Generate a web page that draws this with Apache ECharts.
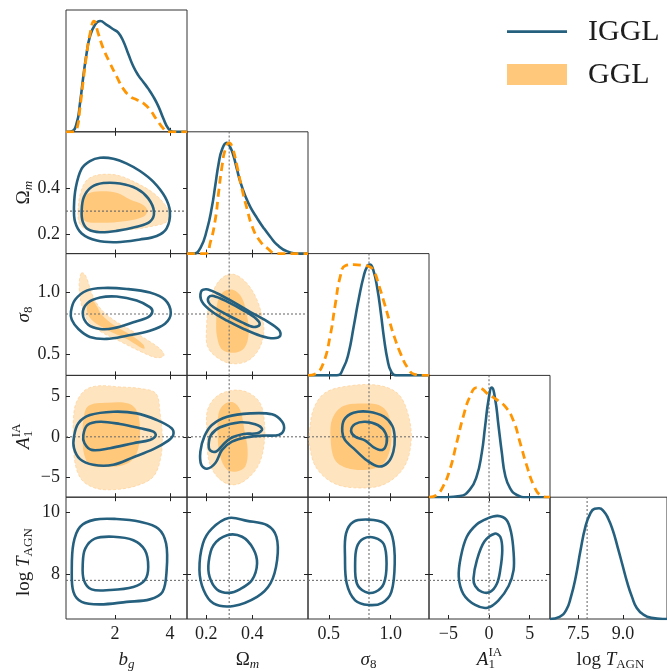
<!DOCTYPE html>
<html>
<head>
<meta charset="utf-8">
<script src="https://cdn.jsdelivr.net/npm/echarts@6/dist/echarts.min.js"></script>
<style>
  html, body { margin: 0; padding: 0; background: #ffffff; }
  #chart { width: 667px; height: 671px; }
</style>
</head>
<body>
<div id="chart"></div>
<script>
// ---------- parameters, axis ranges and ticks ----------
const params = ['bg', 'om', 's8', 'a1', 'lt'];
const ranges = { bg: [0.22, 4.62], om: [0.117, 0.642], s8: [0.332, 1.31], a1: [-7.38, 7.5], lt: [6.56, 10.47] };
const xTicks = { bg: [2, 4], om: [0.2, 0.4], s8: [0.5, 1.0], a1: [-5, 0, 5], lt: [7.5, 9.0] };
const yTicks = { om: [0.2, 0.4], s8: [0.5, 1.0], a1: [-5, 0, 5], lt: [8, 10] };
const xTickDecimals = { bg: 0, om: 1, s8: 1, a1: 0, lt: 1 };
const yTickDecimals = { om: 1, s8: 1, a1: 0, lt: 0 };
const fiducial = { om: 0.3, s8: 0.825, a1: 0, lt: 7.8 };
const legendNames = ['IGGL', 'GGL'];

// ---------- 1D marginal posteriors (peak-normalised) ----------
const bgMarg_IGGL = [[0.22,0],[0.43,0.005],[0.61,0.08],[0.73,0.26],[0.85,0.50],[0.97,0.71],[1.09,0.86],[1.27,0.965],[1.46,1.0],[1.70,0.965],[1.94,0.926],[2.12,0.895],[2.30,0.82],[2.49,0.70],[2.67,0.59],[2.85,0.51],[3.03,0.45],[3.21,0.39],[3.39,0.32],[3.58,0.23],[3.76,0.12],[3.94,0.03],[4.12,0],[4.62,0]];
const bgMarg_GGL = [[0.22,0],[0.50,0],[0.62,0.03],[0.73,0.22],[0.85,0.47],[0.97,0.70],[1.09,0.88],[1.24,1.0],[1.39,0.89],[1.58,0.75],[1.82,0.62],[2.06,0.50],[2.30,0.39],[2.55,0.32],[2.79,0.29],[3.03,0.26],[3.27,0.20],[3.52,0.11],[3.76,0.03],[3.94,0],[4.62,0]];
const omMarg_IGGL = [[0.117,0],[0.145,0],[0.175,0.05],[0.204,0.22],[0.225,0.42],[0.240,0.62],[0.254,0.81],[0.269,0.94],[0.289,1.0],[0.305,0.96],[0.319,0.88],[0.334,0.76],[0.348,0.65],[0.370,0.52],[0.392,0.42],[0.421,0.32],[0.450,0.23],[0.479,0.15],[0.508,0.08],[0.552,0.02],[0.609,0],[0.642,0]];
const omMarg_GGL = [[0.117,0],[0.196,0],[0.218,0.10],[0.240,0.31],[0.254,0.55],[0.269,0.79],[0.283,0.94],[0.300,1.0],[0.315,0.95],[0.334,0.79],[0.356,0.58],[0.378,0.40],[0.399,0.25],[0.428,0.13],[0.465,0.05],[0.508,0],[0.642,0]];
const s8Marg_IGGL = [[0.332,0],[0.565,0],[0.619,0.07],[0.660,0.20],[0.701,0.44],[0.742,0.69],[0.783,0.90],[0.811,0.985],[0.832,1.0],[0.860,0.95],[0.893,0.78],[0.920,0.57],[0.947,0.33],[0.975,0.14],[1.002,0.04],[1.043,0],[1.31,0]];
const s8Marg_GGL = [[0.332,0],[0.401,0.02],[0.456,0.11],[0.510,0.35],[0.551,0.63],[0.592,0.89],[0.633,0.99],[0.701,1.0],[0.770,0.995],[0.824,0.985],[0.865,0.94],[0.906,0.81],[0.947,0.66],[0.988,0.50],[1.029,0.35],[1.083,0.19],[1.137,0.07],[1.192,0.01],[1.275,0],[1.31,0]];
const a1Marg_IGGL = [[-7.38,0],[-5.22,0],[-3.57,0.01],[-2.34,0.07],[-1.51,0.19],[-0.89,0.40],[-0.48,0.64],[-0.06,0.88],[0.34,0.99],[0.75,0.89],[1.16,0.65],[1.58,0.40],[1.98,0.20],[2.60,0.08],[3.43,0.02],[4.66,0],[7.5,0]];
const a1Marg_GGL = [[-7.38,0],[-7.28,0],[-6.45,0.02],[-5.63,0.10],[-4.81,0.25],[-3.98,0.49],[-3.16,0.73],[-2.34,0.91],[-1.51,0.99],[-0.89,0.98],[-0.28,0.94],[0.75,0.89],[1.98,0.82],[3.01,0.69],[3.83,0.49],[4.66,0.28],[5.48,0.11],[6.30,0.02],[7.33,0],[7.5,0]];
const ltMarg_IGGL = [[6.56,0],[6.88,0.02],[7.10,0.08],[7.26,0.20],[7.42,0.38],[7.58,0.62],[7.74,0.83],[7.90,0.95],[8.05,0.995],[8.20,1.0],[8.35,0.975],[8.50,0.91],[8.66,0.80],[8.82,0.65],[8.98,0.49],[9.14,0.33],[9.30,0.20],[9.46,0.10],[9.68,0.04],[9.95,0.01],[10.33,0],[10.47,0]];

// ---------- 2D credible contours (68% / 95%) ----------
const bgOm_IGGL_95 = [[0.51,0.318],[0.58,0.404],[0.79,0.483],[1.09,0.516],[1.46,0.530],[1.94,0.526],[2.43,0.505],[2.91,0.473],[3.40,0.426],[3.82,0.361],[4.00,0.297],[3.88,0.226],[3.52,0.193],[2.91,0.178],[2.06,0.166],[1.34,0.173],[0.79,0.204],[0.55,0.254]];
const bgOm_IGGL_68 = [[0.79,0.304],[0.87,0.361],[1.15,0.404],[1.58,0.421],[2.18,0.419],[2.79,0.397],[3.21,0.355],[3.42,0.297],[3.27,0.254],[2.79,0.233],[2.06,0.215],[1.46,0.209],[1.03,0.221],[0.83,0.254]];
const bgOm_GGL_95 = [[0.66,0.300],[0.74,0.375],[0.95,0.430],[1.25,0.452],[1.70,0.459],[2.18,0.452],[2.79,0.421],[3.40,0.378],[3.82,0.328],[3.98,0.290],[3.88,0.254],[3.40,0.236],[2.67,0.222],[1.46,0.214],[0.95,0.222],[0.70,0.250]];
const bgOm_GGL_68 = [[0.85,0.347],[1.03,0.376],[1.46,0.386],[2.06,0.379],[2.55,0.350],[3.03,0.326],[3.18,0.301],[3.03,0.276],[2.43,0.258],[1.46,0.250],[0.91,0.258],[0.79,0.297]];

const bgS8_IGGL_95 = [[0.40,0.845],[0.55,0.939],[0.97,1.013],[1.58,1.034],[2.43,1.026],[3.27,0.997],[3.82,0.939],[4.03,0.833],[3.82,0.747],[3.27,0.691],[2.43,0.651],[1.70,0.625],[1.09,0.641],[0.67,0.705],[0.43,0.779]];
const bgS8_IGGL_68 = [[0.83,0.827],[1.00,0.912],[1.46,0.957],[2.06,0.965],[2.79,0.933],[3.27,0.880],[3.36,0.843],[3.21,0.800],[2.67,0.758],[1.94,0.710],[1.46,0.705],[1.03,0.739]];
const bgS8_GGL_95 = [[0.77,1.151],[0.70,1.072],[0.73,0.965],[0.83,0.859],[1.03,0.766],[1.46,0.686],[2.18,0.606],[2.91,0.526],[3.52,0.474],[3.78,0.492],[3.64,0.545],[3.15,0.620],[2.55,0.699],[1.94,0.779],[1.46,0.872],[1.15,0.992],[1.00,1.098],[0.87,1.151]];
const bgS8_GGL_68 = [[1.00,0.912],[1.00,0.833],[1.21,0.766],[1.70,0.699],[2.43,0.625],[3.06,0.545],[3.03,0.580],[2.55,0.660],[1.94,0.739],[1.52,0.819],[1.31,0.899],[1.15,0.944]];

const omS8_IGGL_95 = [[0.178,1.005],[0.201,1.024],[0.247,0.992],[0.319,0.920],[0.392,0.841],[0.465,0.766],[0.515,0.699],[0.522,0.651],[0.493,0.630],[0.435,0.651],[0.363,0.705],[0.291,0.771],[0.225,0.845],[0.182,0.925]];
const omS8_IGGL_68 = [[0.211,0.960],[0.232,0.970],[0.291,0.925],[0.363,0.853],[0.418,0.785],[0.432,0.739],[0.406,0.721],[0.356,0.758],[0.291,0.819],[0.232,0.880],[0.211,0.917]];
const omS8_GGL_95 = [[0.201,0.673],[0.211,0.885],[0.240,1.045],[0.276,1.124],[0.319,1.144],[0.370,1.085],[0.414,0.965],[0.443,0.805],[0.450,0.673],[0.428,0.540],[0.378,0.447],[0.305,0.428],[0.240,0.486],[0.206,0.566]];
const omS8_GGL_68 = [[0.244,0.779],[0.250,0.925],[0.276,1.005],[0.319,1.018],[0.356,0.952],[0.378,0.805],[0.385,0.673],[0.366,0.553],[0.319,0.514],[0.269,0.540],[0.247,0.646]];

const bgA1_IGGL_95 = [[0.51,0.02],[0.67,1.65],[1.09,2.65],[1.94,3.06],[2.79,2.86],[3.52,2.05],[4.06,1.04],[4.12,0.22],[3.94,-0.47],[3.40,-1.51],[2.67,-2.49],[1.94,-3.42],[1.21,-3.42],[0.73,-2.73],[0.51,-1.39]];
const bgA1_IGGL_68 = [[0.85,0.22],[1.00,1.44],[1.46,1.84],[2.18,1.56],[2.91,1.04],[3.40,0.63],[3.48,0.14],[3.27,-0.38],[2.67,-0.78],[1.82,-1.39],[1.15,-1.60],[0.89,-0.78]];
const bgA1_GGL_95 = [[0.58,4.07],[0.91,5.69],[1.39,6.22],[2.18,6.09],[2.91,5.90],[3.49,5.29],[3.64,2.86],[3.72,0.02],[3.66,-2.61],[3.40,-4.84],[2.79,-5.97],[1.94,-6.46],[1.27,-6.25],[0.79,-5.24],[0.55,-3.21],[0.49,0.02],[0.49,2.05]];
const bgA1_GGL_68 = [[0.85,2.05],[1.03,3.75],[1.70,4.15],[2.49,4.07],[2.81,3.06],[2.91,0.43],[2.79,-2.00],[2.43,-3.30],[1.70,-3.70],[1.09,-3.42],[0.87,-2.00],[0.83,0.02]];

const omA1_IGGL_95 = [[0.179,-3.42],[0.175,-1.80],[0.192,0.02],[0.225,1.44],[0.291,2.45],[0.392,2.86],[0.486,2.74],[0.530,1.84],[0.537,0.83],[0.515,0.22],[0.450,0.14],[0.378,-0.05],[0.312,-0.59],[0.269,-1.60],[0.240,-3.21],[0.204,-3.91]];
const omA1_IGGL_68 = [[0.211,-0.99],[0.221,0.22],[0.261,1.16],[0.348,1.77],[0.413,1.52],[0.443,0.91],[0.421,0.43],[0.363,0.35],[0.305,-0.18],[0.269,-1.11],[0.244,-1.80],[0.218,-1.68]];
const omA1_GGL_95 = [[0.206,3.26],[0.247,4.96],[0.319,5.69],[0.385,5.36],[0.435,4.07],[0.453,1.65],[0.450,-1.20],[0.424,-3.63],[0.363,-5.45],[0.305,-5.85],[0.247,-4.84],[0.211,-2.81],[0.204,0.43]];
const omA1_GGL_68 = [[0.254,2.86],[0.279,3.99],[0.319,4.19],[0.348,3.26],[0.366,0.83],[0.380,-1.60],[0.370,-3.63],[0.334,-4.23],[0.291,-4.03],[0.261,-2.41],[0.250,0.02]];

const s8A1_IGGL_95 = [[0.609,0.63],[0.623,2.05],[0.700,2.93],[0.823,3.06],[0.946,2.45],[1.014,1.32],[1.033,-0.18],[1.022,-1.80],[0.978,-3.14],[0.904,-3.63],[0.809,-2.90],[0.713,-1.60],[0.631,-0.38]];
const s8A1_IGGL_68 = [[0.680,0.75],[0.713,1.56],[0.795,1.84],[0.896,1.44],[0.959,0.43],[0.967,-0.78],[0.932,-1.60],[0.863,-1.28],[0.795,-0.47],[0.713,0.02]];
const s8A1_GGL_95 = [[0.346,0.83],[0.379,3.47],[0.469,5.36],[0.647,6.18],[0.893,6.30],[1.057,5.29],[1.139,2.86],[1.166,-0.38],[1.111,-3.63],[0.959,-5.73],[0.768,-6.25],[0.549,-5.73],[0.401,-3.82],[0.346,-1.20]];
const s8A1_GGL_68 = [[0.514,0.02],[0.530,2.25],[0.617,3.75],[0.781,4.07],[0.904,3.87],[0.978,2.86],[1.005,0.83],[0.994,-1.60],[0.932,-3.42],[0.809,-4.03],[0.647,-3.82],[0.549,-2.81]];

const bgLt_IGGL_95 = [[0.43,8.13],[0.49,8.98],[0.73,9.52],[1.27,9.75],[2.06,9.77],[2.91,9.68],[3.58,9.46],[3.86,8.98],[3.88,8.13],[3.73,7.43],[3.27,7.19],[2.43,7.11],[1.46,7.03],[0.79,7.11],[0.49,7.43]];
const bgLt_IGGL_68 = [[0.83,8.34],[0.92,8.82],[1.27,9.14],[1.94,9.20],[2.67,9.09],[3.09,8.77],[3.21,8.23],[3.09,7.81],[2.67,7.59],[1.82,7.49],[1.15,7.51],[0.87,7.81]];
const omLt_IGGL_95 = [[0.171,8.13],[0.186,8.98],[0.225,9.46],[0.298,9.80],[0.378,9.71],[0.465,9.57],[0.505,9.20],[0.508,8.45],[0.479,7.70],[0.421,7.27],[0.319,6.98],[0.232,7.06],[0.189,7.49]];
const omLt_IGGL_68 = [[0.211,8.39],[0.232,8.93],[0.291,9.25],[0.356,9.20],[0.404,8.82],[0.421,8.34],[0.399,7.81],[0.348,7.52],[0.298,7.40],[0.247,7.51],[0.215,7.91]];
const s8Lt_IGGL_95 = [[0.631,8.55],[0.639,9.30],[0.699,9.68],[0.822,9.75],[0.945,9.64],[1.014,9.20],[1.033,8.34],[1.006,7.43],[0.932,7.08],[0.822,7.01],[0.713,7.16],[0.645,7.70]];
const s8Lt_IGGL_68 = [[0.713,8.34],[0.727,8.87],[0.781,9.14],[0.869,9.17],[0.945,8.96],[0.967,8.34],[0.945,7.70],[0.877,7.43],[0.795,7.43],[0.727,7.70]];
const a1Lt_IGGL_95 = [[-3.72,7.91],[-3.47,8.55],[-2.73,9.20],[-1.49,9.60],[-0.26,9.78],[1.05,9.87],[2.12,9.75],[2.70,9.36],[3.02,8.71],[3.02,8.13],[2.41,7.62],[1.17,7.16],[-0.19,6.92],[-1.70,7.01],[-3.15,7.36]];
const a1Lt_IGGL_68 = [[-1.91,7.86],[-1.49,8.45],[-0.59,9.04],[0.68,9.30],[1.38,9.20],[1.63,8.77],[1.38,8.13],[0.98,7.70],[0.15,7.43],[-0.88,7.43],[-1.70,7.62]];

// ---------- styling and layout ----------
const FONT = '"Liberation Serif", "DejaVu Serif", serif';
const BLUE = '#26607f';
const ORANGE = '#ff9500';
const FILL_95 = '#ffe4c0';
const FILL_68 = '#ffc87b';
const TEXT = '#1e1e1e';
const PANEL_W = 121, PANEL_H = 121.8, LEFT0 = 66, TOP0 = 10;
const DIAG_MAX = 1.1;

function fmt(v, d) { return Number(v).toFixed(d).replace('-', '\u2212'); }

function makeAxis(g, range, ticks, position, showLabels, decimals) {
  return {
    gridIndex: g, type: 'value', position: position, min: range[0], max: range[1],
    axisLine: { show: false, onZero: false }, splitLine: { show: false },
    axisTick: { show: true, inside: true, length: 4, lineStyle: { color: '#222', width: 1 }, customValues: ticks },
    axisLabel: { show: showLabels, customValues: ticks, margin: 6, color: TEXT, fontFamily: FONT, fontSize: 18,
                 formatter: function (v) { return fmt(v, decimals); } }
  };
}

const grids = [], xAxes = [], yAxes = [];
const panel = {};
for (let r = 0; r < params.length; r++) {
  for (let c = 0; c <= r; c++) {
    const g = grids.length;
    grids.push({ left: LEFT0 + c * PANEL_W, top: TOP0 + r * PANEL_H, width: PANEL_W, height: PANEL_H,
                 show: true, borderColor: '#333', borderWidth: 1, backgroundColor: 'transparent' });
    const px = params[c], py = params[r];
    const xi = xAxes.length;
    xAxes.push(makeAxis(g, ranges[px], xTicks[px], 'bottom', r === params.length - 1, xTickDecimals[px]));
    const yi = yAxes.length;
    if (r === c) {
      yAxes.push({ gridIndex: g, type: 'value', min: 0, max: DIAG_MAX, show: false,
                   axisLine: { onZero: false }, splitLine: { show: false } });
    } else {
      xAxes.push(makeAxis(g, ranges[px], xTicks[px], 'top', false, xTickDecimals[px]));
      yAxes.push(makeAxis(g, ranges[py], yTicks[py], 'left', c === 0, yTickDecimals[py]));
      yAxes.push(makeAxis(g, ranges[py], yTicks[py], 'right', false, yTickDecimals[py]));
    }
    panel[px + '|' + py] = { xi: xi, yi: yi };
  }
}

// closed smooth contour drawn through the grid's own axes
function region(px, py, pts, style) {
  const p = panel[px + '|' + py];
  return {
    type: 'custom', xAxisIndex: p.xi, yAxisIndex: p.yi, data: pts, clip: true, silent: true,
    renderItem: function (params, api) {
      if (params.dataIndex !== 0) return;
      const points = pts.map(function (d) { return api.coord(d); });
      return { type: 'polygon', shape: { points: points, smooth: 0.35 }, style: style };
    }
  };
}
const style95 = { fill: FILL_95, stroke: '#ffd39c', lineWidth: 0.8, lineDash: [3, 2] };
const style68 = { fill: FILL_68, stroke: null };
const styleBlue = { fill: null, stroke: BLUE, lineWidth: 2.6 };

function curve(px, name, pts, dashed) {
  const p = panel[px + '|' + px];
  return {
    type: 'line', name: name, xAxisIndex: p.xi, yAxisIndex: p.yi, data: pts, symbol: 'none', silent: true,
    smooth: 0.5, clip: true,
    lineStyle: dashed ? { color: ORANGE, width: 2.8, type: [8, 5] } : { color: BLUE, width: 2.6 }
  };
}

// straight dotted reference line between two data points of a panel
function refLine(px, py, pts) {
  const p = panel[px + '|' + py];
  return {
    type: 'custom', xAxisIndex: p.xi, yAxisIndex: p.yi, data: pts, clip: true, silent: true,
    renderItem: function (params, api) {
      if (params.dataIndex !== 0) return;
      const a = api.coord(pts[0]), b = api.coord(pts[1]);
      return { type: 'line', shape: { x1: a[0], y1: a[1], x2: b[0], y2: b[1] },
               style: { stroke: '#707070', lineWidth: 1.1, lineDash: [2, 2], fill: null } };
    }
  };
}

const series = [];
// GGL filled regions
[
  ['bg','om',bgOm_GGL_95,bgOm_GGL_68], ['bg','s8',bgS8_GGL_95,bgS8_GGL_68], ['om','s8',omS8_GGL_95,omS8_GGL_68],
  ['bg','a1',bgA1_GGL_95,bgA1_GGL_68], ['om','a1',omA1_GGL_95,omA1_GGL_68], ['s8','a1',s8A1_GGL_95,s8A1_GGL_68]
].forEach(function (d) {
  series.push(region(d[0], d[1], d[2], style95));
  series.push(region(d[0], d[1], d[3], style68));
});

// fiducial values: vertical lines in every panel of a column, horizontal lines along a row
for (let r = 0; r < params.length; r++) {
  for (let c = 0; c <= r; c++) {
    const px = params[c], py = params[r];
    if (fiducial[px] !== undefined) {
      const yr = r === c ? [0, DIAG_MAX] : ranges[py];
      series.push(refLine(px, py, [[fiducial[px], yr[0]], [fiducial[px], yr[1]]]));
    }
    if (r !== c && fiducial[py] !== undefined) {
      series.push(refLine(px, py, [[ranges[px][0], fiducial[py]], [ranges[px][1], fiducial[py]]]));
    }
  }
}

// IGGL contour lines
[
  ['bg','om',bgOm_IGGL_95,bgOm_IGGL_68], ['bg','s8',bgS8_IGGL_95,bgS8_IGGL_68], ['om','s8',omS8_IGGL_95,omS8_IGGL_68],
  ['bg','a1',bgA1_IGGL_95,bgA1_IGGL_68], ['om','a1',omA1_IGGL_95,omA1_IGGL_68], ['s8','a1',s8A1_IGGL_95,s8A1_IGGL_68],
  ['bg','lt',bgLt_IGGL_95,bgLt_IGGL_68], ['om','lt',omLt_IGGL_95,omLt_IGGL_68], ['s8','lt',s8Lt_IGGL_95,s8Lt_IGGL_68],
  ['a1','lt',a1Lt_IGGL_95,a1Lt_IGGL_68]
].forEach(function (d) {
  series.push(region(d[0], d[1], d[2], styleBlue));
  series.push(region(d[0], d[1], d[3], styleBlue));
});

// 1D marginals
series.push(curve('bg', 'IGGL', bgMarg_IGGL, false), curve('bg', 'GGL', bgMarg_GGL, true));
series.push(curve('om', 'IGGL', omMarg_IGGL, false), curve('om', 'GGL', omMarg_GGL, true));
series.push(curve('s8', 'IGGL', s8Marg_IGGL, false), curve('s8', 'GGL', s8Marg_GGL, true));
series.push(curve('a1', 'IGGL', a1Marg_IGGL, false), curve('a1', 'GGL', a1Marg_GGL, true));
series.push(curve('lt', 'IGGL', ltMarg_IGGL, false));

// ---------- math-style axis titles ----------
const measureCtx = document.createElement('canvas').getContext('2d');
function textWidth(t, size, italic) {
  measureCtx.font = (italic ? 'italic ' : '') + size + 'px ' + FONT;
  return measureCtx.measureText(t).width;
}
function mathLabel(parts, cx, cy, rot) {
  const kids = [];
  let x = 0, prevX = 0;
  parts.forEach(function (p) {
    const size = (p.sub || p.sup) ? 13 : 19;
    const w = textWidth(p.t, size, p.it);
    let at;
    if (p.stack) { at = prevX; x = Math.max(x, prevX + w); } else { at = x; x += w; }
    prevX = at;
    kids.push({ type: 'text', x: at, y: p.sub ? 5 : (p.sup ? -7 : 0),
      style: { text: p.t, fontSize: size, fontFamily: FONT, fontStyle: p.it ? 'italic' : 'normal', fill: TEXT,
               align: 'left', verticalAlign: 'middle', textAlign: 'left', textVerticalAlign: 'middle' } });
  });
  kids.forEach(function (k) { k.x -= x / 2; });
  return { type: 'group', x: cx, y: cy, rotation: rot || 0, silent: true, children: kids };
}
const titles = {
  bg: [{ t: 'b', it: true }, { t: 'g', it: true, sub: true }],
  om: [{ t: '\u03A9' }, { t: 'm', it: true, sub: true }],
  s8: [{ t: '\u03C3', it: true }, { t: '8', sub: true }],
  a1: [{ t: 'A', it: true }, { t: 'IA', sup: true }, { t: '1', sub: true, stack: true }],
  lt: [{ t: 'log ' }, { t: 'T', it: true }, { t: 'AGN', sub: true }]
};

const graphics = [];
params.forEach(function (p, i) {
  graphics.push(mathLabel(titles[p], LEFT0 + i * PANEL_W + PANEL_W / 2, 660, 0));
  if (i > 0) graphics.push(mathLabel(titles[p], 24, TOP0 + i * PANEL_H + PANEL_H / 2 + (p === 'lt' ? 4 : 0), Math.PI / 2));
});

// legend
graphics.push({ type: 'line', silent: true, shape: { x1: 507, y1: 31.7, x2: 567, y2: 31.7 }, style: { stroke: BLUE, lineWidth: 2.7 } });
graphics.push({ type: 'rect', silent: true, shape: { x: 507, y: 64, width: 60, height: 21 }, style: { fill: FILL_68 } });
graphics.push({ type: 'text', silent: true, x: 588, y: 32,
  style: { text: legendNames[0], fontSize: 30, fontFamily: FONT, fill: TEXT, align: 'left', verticalAlign: 'middle', textAlign: 'left', textVerticalAlign: 'middle' } });
graphics.push({ type: 'text', silent: true, x: 588, y: 75,
  style: { text: legendNames[1], fontSize: 30, fontFamily: FONT, fill: TEXT, align: 'left', verticalAlign: 'middle', textAlign: 'left', textVerticalAlign: 'middle' } });

const chart = echarts.init(document.getElementById('chart'), null, { renderer: 'canvas' });
chart.setOption({
  animation: false,
  backgroundColor: '#ffffff',
  grid: grids,
  xAxis: xAxes,
  yAxis: yAxes,
  series: series,
  graphic: { elements: graphics }
});
</script>
</body>
</html>
